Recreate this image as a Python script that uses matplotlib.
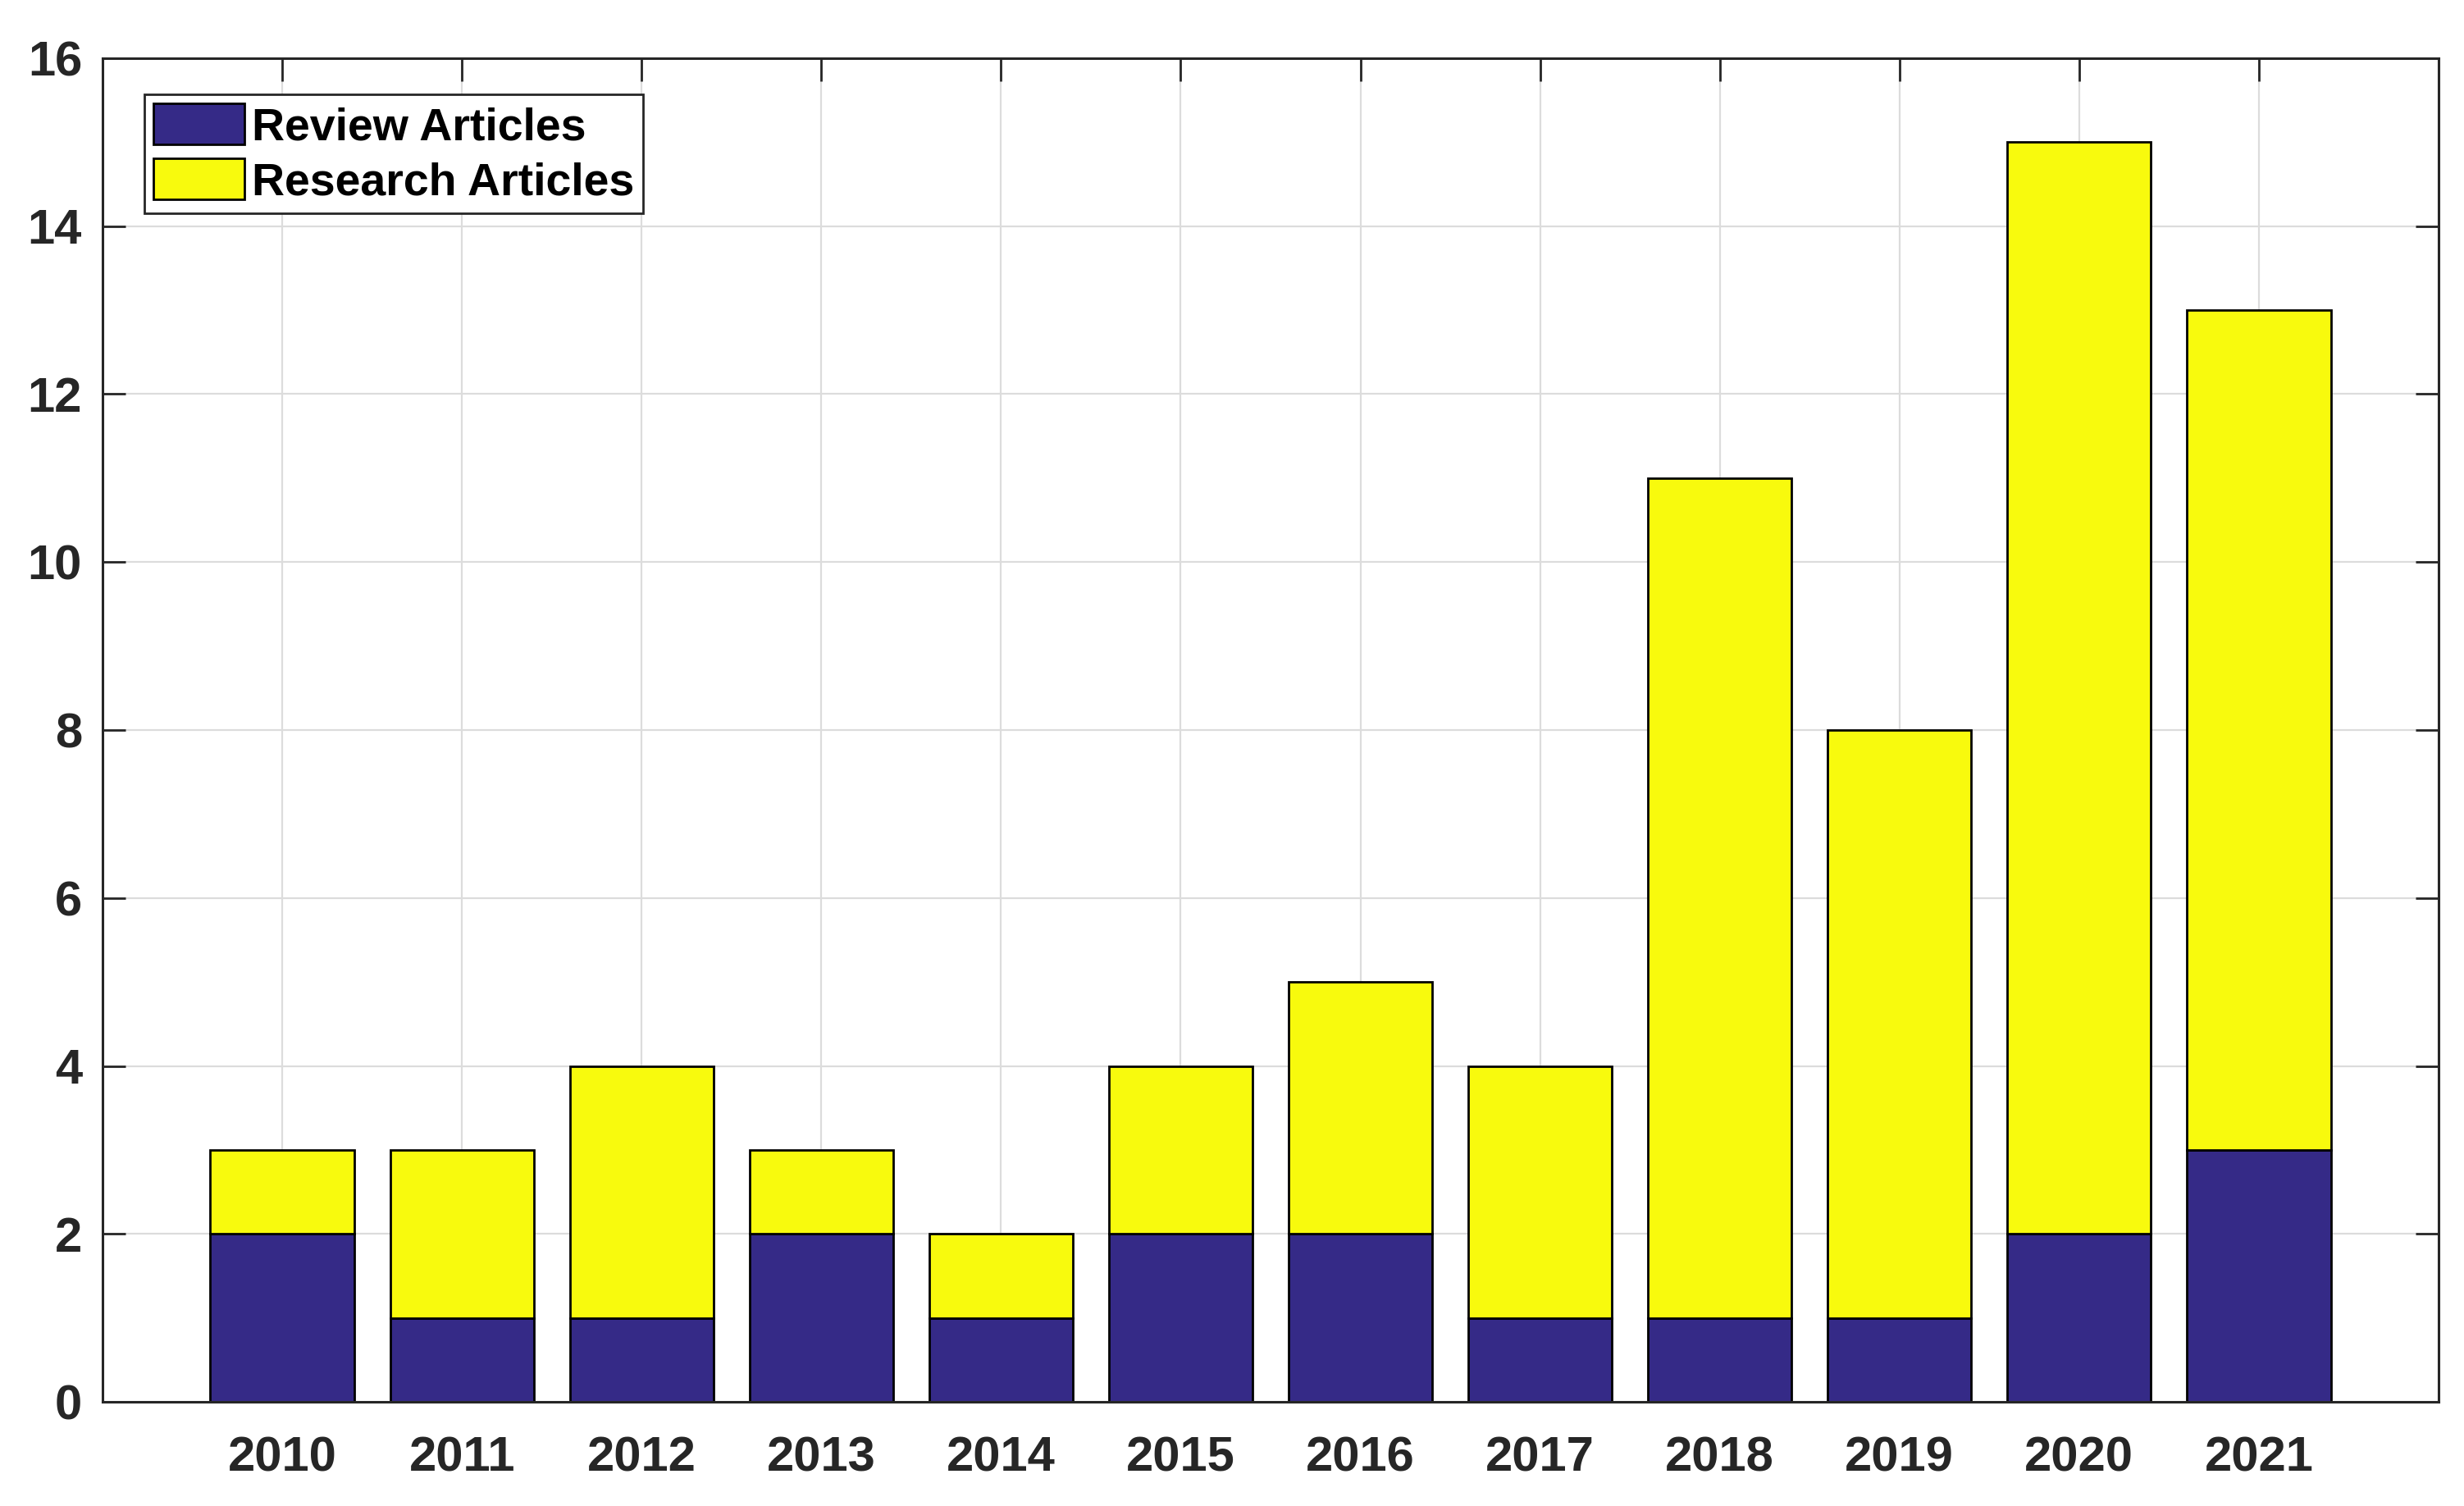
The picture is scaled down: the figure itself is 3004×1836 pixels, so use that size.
import numpy as np
import matplotlib.pyplot as plt
from matplotlib.patches import Patch

years = [2010, 2011, 2012, 2013, 2014, 2015, 2016, 2017, 2018, 2019, 2020, 2021]
review = [2, 1, 1, 2, 1, 2, 2, 1, 1, 1, 2, 3]
research = [1, 2, 3, 1, 1, 2, 3, 3, 10, 7, 13, 10]
yticks = [0, 2, 4, 6, 8, 10, 12, 14, 16]

navy = '#352a87'
yellow = '#f8fa0d'

plt.rcParams['font.family'] = ['Liberation Sans', 'DejaVu Sans']
plt.rcParams['font.weight'] = 'bold'

fig = plt.figure(figsize=(30.04, 18.36), dpi=100)
ax = fig.add_axes([125 / 3004, 1 - 1709 / 1836, (2973 - 125) / 3004, (1709 - 71) / 1836])

# grid drawn by hand so that ticks can stay on top of the bars
for y in yticks:
    ax.axhline(y, color='#dcdcdc', lw=1.6, zorder=0)
for x in years:
    ax.axvline(x, color='#dcdcdc', lw=1.6, zorder=0)

ax.bar(years, review, width=0.8, color=navy, edgecolor='black', lw=2, zorder=2)
ax.bar(years, research, width=0.8, bottom=review, color=yellow,
       edgecolor='black', lw=2, zorder=2)

ax.set_xlim(2009, 2022)
ax.set_ylim(0, 16)
ax.set_xticks(years)
ax.set_yticks(yticks)
ax.tick_params(direction='in', length=20, width=2, colors='#262626',
               top=True, right=True, labelsize=43)
ax.tick_params(axis='x', pad=30)
ax.tick_params(axis='y', pad=18)
for lab in ax.get_xticklabels() + ax.get_yticklabels():
    lab.set_fontweight('bold')
for s in ax.spines.values():
    s.set_linewidth(2.2)
    s.set_color('#262626')
    s.set_zorder(5)

handles = [Patch(facecolor=navy, edgecolor='black', lw=2, label='Review Articles'),
           Patch(facecolor=yellow, edgecolor='black', lw=2, label='Research Articles')]
leg = ax.legend(handles=handles, loc='upper left', bbox_to_anchor=(0.018, 0.973),
                prop={'weight': 'bold', 'size': 40}, frameon=True,
                fancybox=False, edgecolor='#262626', framealpha=1,
                handlelength=2.0, handleheight=1.0, handletextpad=0.15,
                labelspacing=0.2, borderpad=0.2, borderaxespad=0)
leg.get_frame().set_linewidth(2)
leg.set_zorder(6)

fig.savefig('out.png', dpi=100)
